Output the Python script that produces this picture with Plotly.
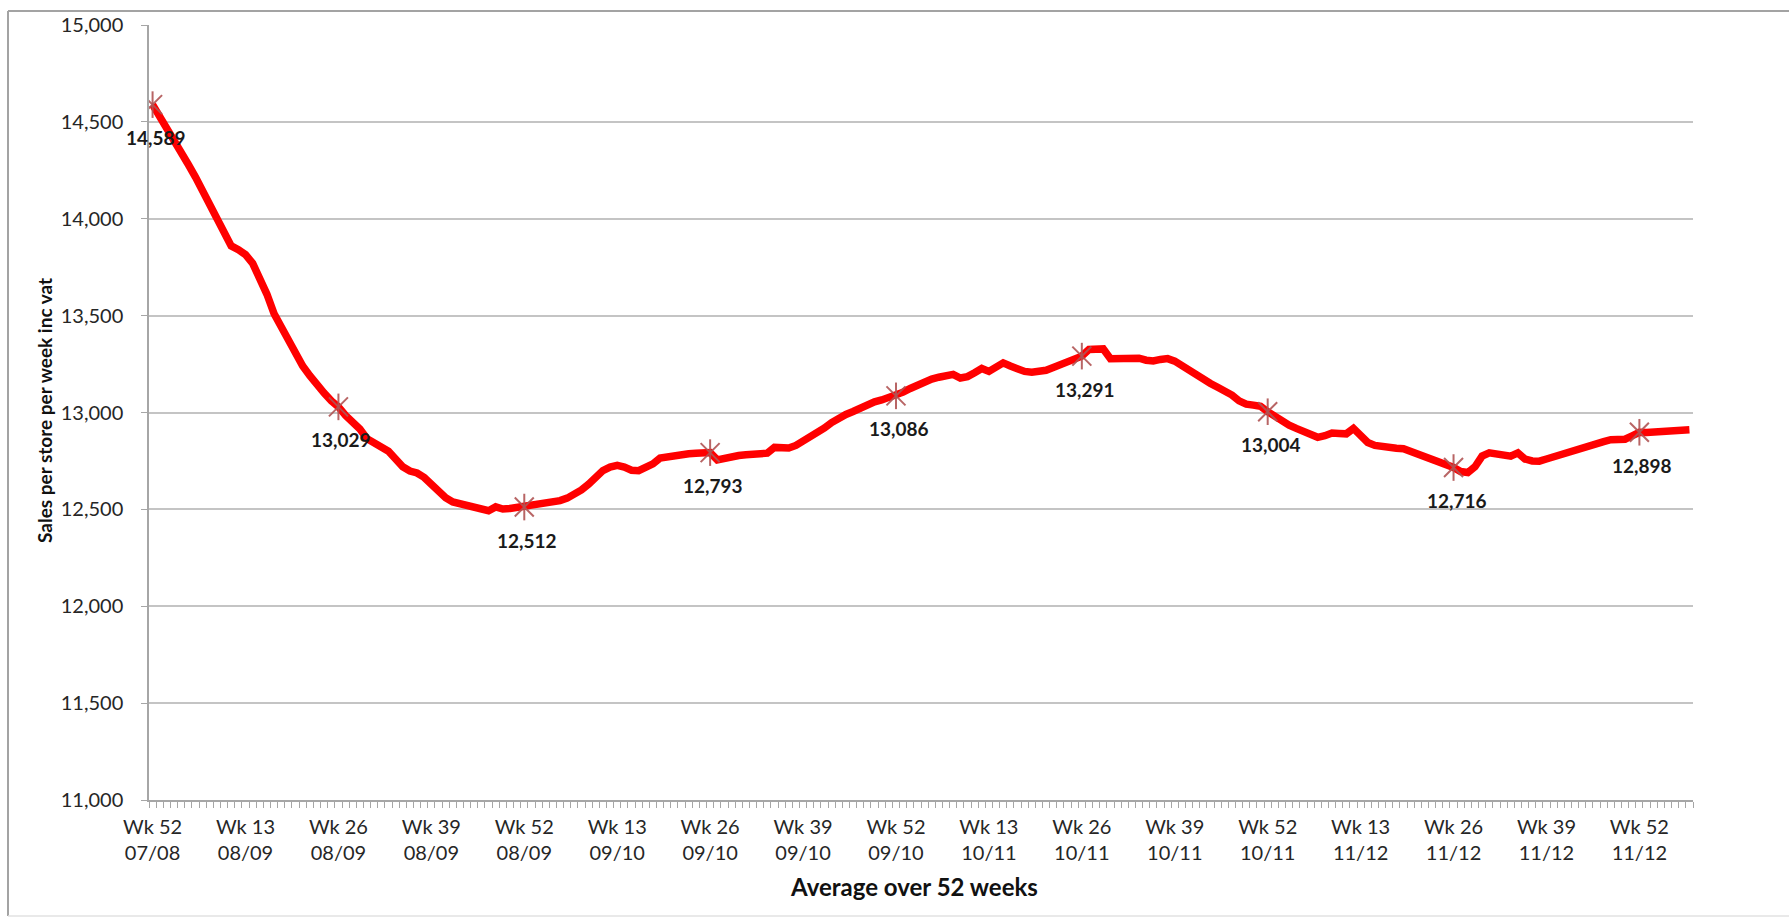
import plotly.graph_objects as go

# Weekly sales per store (rolling 52-week average), Wk 52 07/08 onwards
sales = [
    14589, 14530, 14475, 14410, 14345, 14280, 14215, 14140, 14080, 14000,
    13920, 13860, 13840, 13815, 13770, 13697, 13610, 13510, 13440, 13375,
    13300, 13240, 13190, 13140, 13100, 13060, 13029, 12985, 12955, 12915,
    12865, 12840, 12820, 12800, 12760, 12720, 12698, 12688, 12665, 12628,
    12590, 12560, 12538, 12527, 12520, 12510, 12500, 12493, 12513, 12502,
    12505, 12510, 12512, 12518, 12522, 12527, 12535, 12545, 12558, 12575,
    12600, 12630, 12662, 12700, 12718, 12727, 12718, 12702, 12700, 12715,
    12735, 12765, 12772, 12775, 12780, 12787, 12790, 12792, 12793, 12755,
    12765, 12775, 12778, 12782, 12785, 12787, 12790, 12820, 12820, 12817,
    12830, 12850, 12870, 12893, 12920, 12948, 12971, 12990, 13005, 13025,
    13042, 13055, 13065, 13075, 13086, 13105, 13124, 13142, 13160, 13172,
    13182, 13192, 13197, 13178, 13185, 13205, 13227, 13212, 13240, 13256,
    13240, 13225, 13212, 13208, 13212, 13218, 13232, 13248, 13265, 13280,
    13291, 13325, 13330, 13328, 13278, 13278, 13276, 13278, 13280, 13270,
    13266, 13274, 13278, 13265, 13240, 13215, 13190, 13172, 13150, 13130,
    13112, 13090, 13060, 13043, 13038, 13032, 13004, 12978, 12954, 12935,
    12918, 12903, 12888, 12872, 12880, 12894, 12892, 12890, 12918, 12885,
    12845, 12830, 12822, 12818, 12815, 12813, 12800, 12790, 12775, 12760,
    12745, 12730, 12716, 12695, 12690, 12720, 12775, 12792, 12788, 12783,
    12775, 12792, 12760, 12750, 12749, 12760, 12772, 12783, 12800, 12810,
    12818, 12826, 12838, 12850, 12860, 12858, 12862, 12880, 12898, 12897,
    12900, 12903, 12906, 12908, 12909, 12911,
]

# Category positions carrying a tick label (every 13 weeks)
label_weeks = [0, 13, 26, 39, 52, 65, 78, 91, 104, 117, 130, 143, 156, 169, 182, 195, 208]
label_text = [
    "Wk 52<br>07/08", "Wk 13<br>08/09", "Wk 26<br>08/09", "Wk 39<br>08/09",
    "Wk 52<br>08/09", "Wk 13<br>09/10", "Wk 26<br>09/10", "Wk 39<br>09/10",
    "Wk 52<br>09/10", "Wk 13<br>10/11", "Wk 26<br>10/11", "Wk 39<br>10/11",
    "Wk 52<br>10/11", "Wk 13<br>11/12", "Wk 26<br>11/12", "Wk 39<br>11/12",
    "Wk 52<br>11/12",
]

# Half-year points highlighted with a marker and value label
marked_weeks = [0, 26, 52, 78, 104, 130, 156, 182, 208]

y_ticks = [11000, 11500, 12000, 12500, 13000, 13500, 14000, 14500, 15000]

FONT = "Lato"
W, H = 1789, 919
ML, MR, MT, MB = 149, 96, 19, 119
PW, PH = W - ML - MR, H - MT - MB

weeks = list(range(len(sales)))
mk_x = marked_weeks
mk_y = [sales[i] for i in marked_weeks]
mk_col = "rgba(176,84,84,0.9)"

fig = go.Figure()
fig.add_trace(go.Scatter(
    x=weeks, y=sales, mode="lines",
    line=dict(color="#ff0000", width=7.5),
    hoverinfo="skip",
))
for sym in ("x-thin-open", "line-ns-open"):
    fig.add_trace(go.Scatter(
        x=mk_x, y=mk_y, mode="markers",
        marker=dict(symbol=sym, size=19, color=mk_col,
                    line=dict(width=2, color=mk_col)),
        hoverinfo="skip",
    ))

annotations = []
for xv, yv in zip(mk_x, mk_y):
    annotations.append(dict(
        x=xv, y=yv, xref="x", yref="y", text=f"{yv:,}", showarrow=False,
        xshift=3, yshift=-33,
        font=dict(family=FONT, size=19, color="#1a1a1a", weight="bold"),
    ))

# Axis titles
annotations.append(dict(
    x=(914 - ML) / PW, y=(MT + PH - 887) / PH, xref="paper", yref="paper",
    text="Average over 52 weeks", showarrow=False, xanchor="center", yanchor="middle",
    font=dict(family=FONT, size=24, color="#111111", weight="bold"),
))
annotations.append(dict(
    x=(44 - ML) / PW, y=(MT + PH - 407) / PH, xref="paper", yref="paper",
    text="Sales per store per week inc vat", showarrow=False, textangle=-90,
    xanchor="center", yanchor="middle",
    font=dict(family=FONT, size=19, color="#111111", weight="bold"),
))


def px_x(p):
    return (p - ML) / PW


def px_y(p):
    return (MT + PH - p) / PH


border = "#a3a3a3"
shapes = [
    dict(type="line", xref="paper", yref="paper", x0=px_x(8), x1=px_x(W + 5),
         y0=px_y(5), y1=px_y(5), line=dict(color=border, width=2)),
    dict(type="line", xref="paper", yref="paper", x0=px_x(8), x1=px_x(8),
         y0=px_y(5), y1=px_y(917), line=dict(color=border, width=2)),
    dict(type="line", xref="paper", yref="paper", x0=px_x(8), x1=px_x(W + 5),
         y0=px_y(917), y1=px_y(917), line=dict(color="#e2e2e2", width=1.5)),
]

axis_gray = "#a6a6a6"
fig.update_layout(
    width=W, height=H,
    margin=dict(l=ML, r=MR, t=MT, b=MB, pad=0),
    paper_bgcolor="white", plot_bgcolor="white",
    showlegend=False,
    font=dict(family=FONT, size=20, color="#262626"),
    annotations=annotations,
    shapes=shapes,
    xaxis=dict(
        range=[-0.5, len(sales) - 0.5],
        tickmode="array", tickvals=label_weeks, ticktext=label_text,
        ticks="", showgrid=False, zeroline=False,
        showline=True, linecolor=axis_gray, linewidth=1.5,
        tickfont=dict(family=FONT, size=20, color="#262626"),
        ticklabelstandoff=8,
        minor=dict(ticks="outside", ticklen=6, tickwidth=1.2, tickcolor=axis_gray,
                   tick0=-0.5, dtick=1, showgrid=False),
        fixedrange=True,
    ),
    yaxis=dict(
        range=[11000, 15000],
        tickmode="array", tickvals=y_ticks, tickformat=",",
        ticks="outside", ticklen=6, tickwidth=1.2, tickcolor=axis_gray,
        showgrid=True, gridcolor="#c4c4c4", gridwidth=1.5,
        zeroline=False, showline=True, linecolor=axis_gray, linewidth=1.5,
        tickfont=dict(family=FONT, size=20, color="#262626"),
        ticklabelstandoff=14,
        fixedrange=True,
    ),
)

fig.write_html("out.html")
